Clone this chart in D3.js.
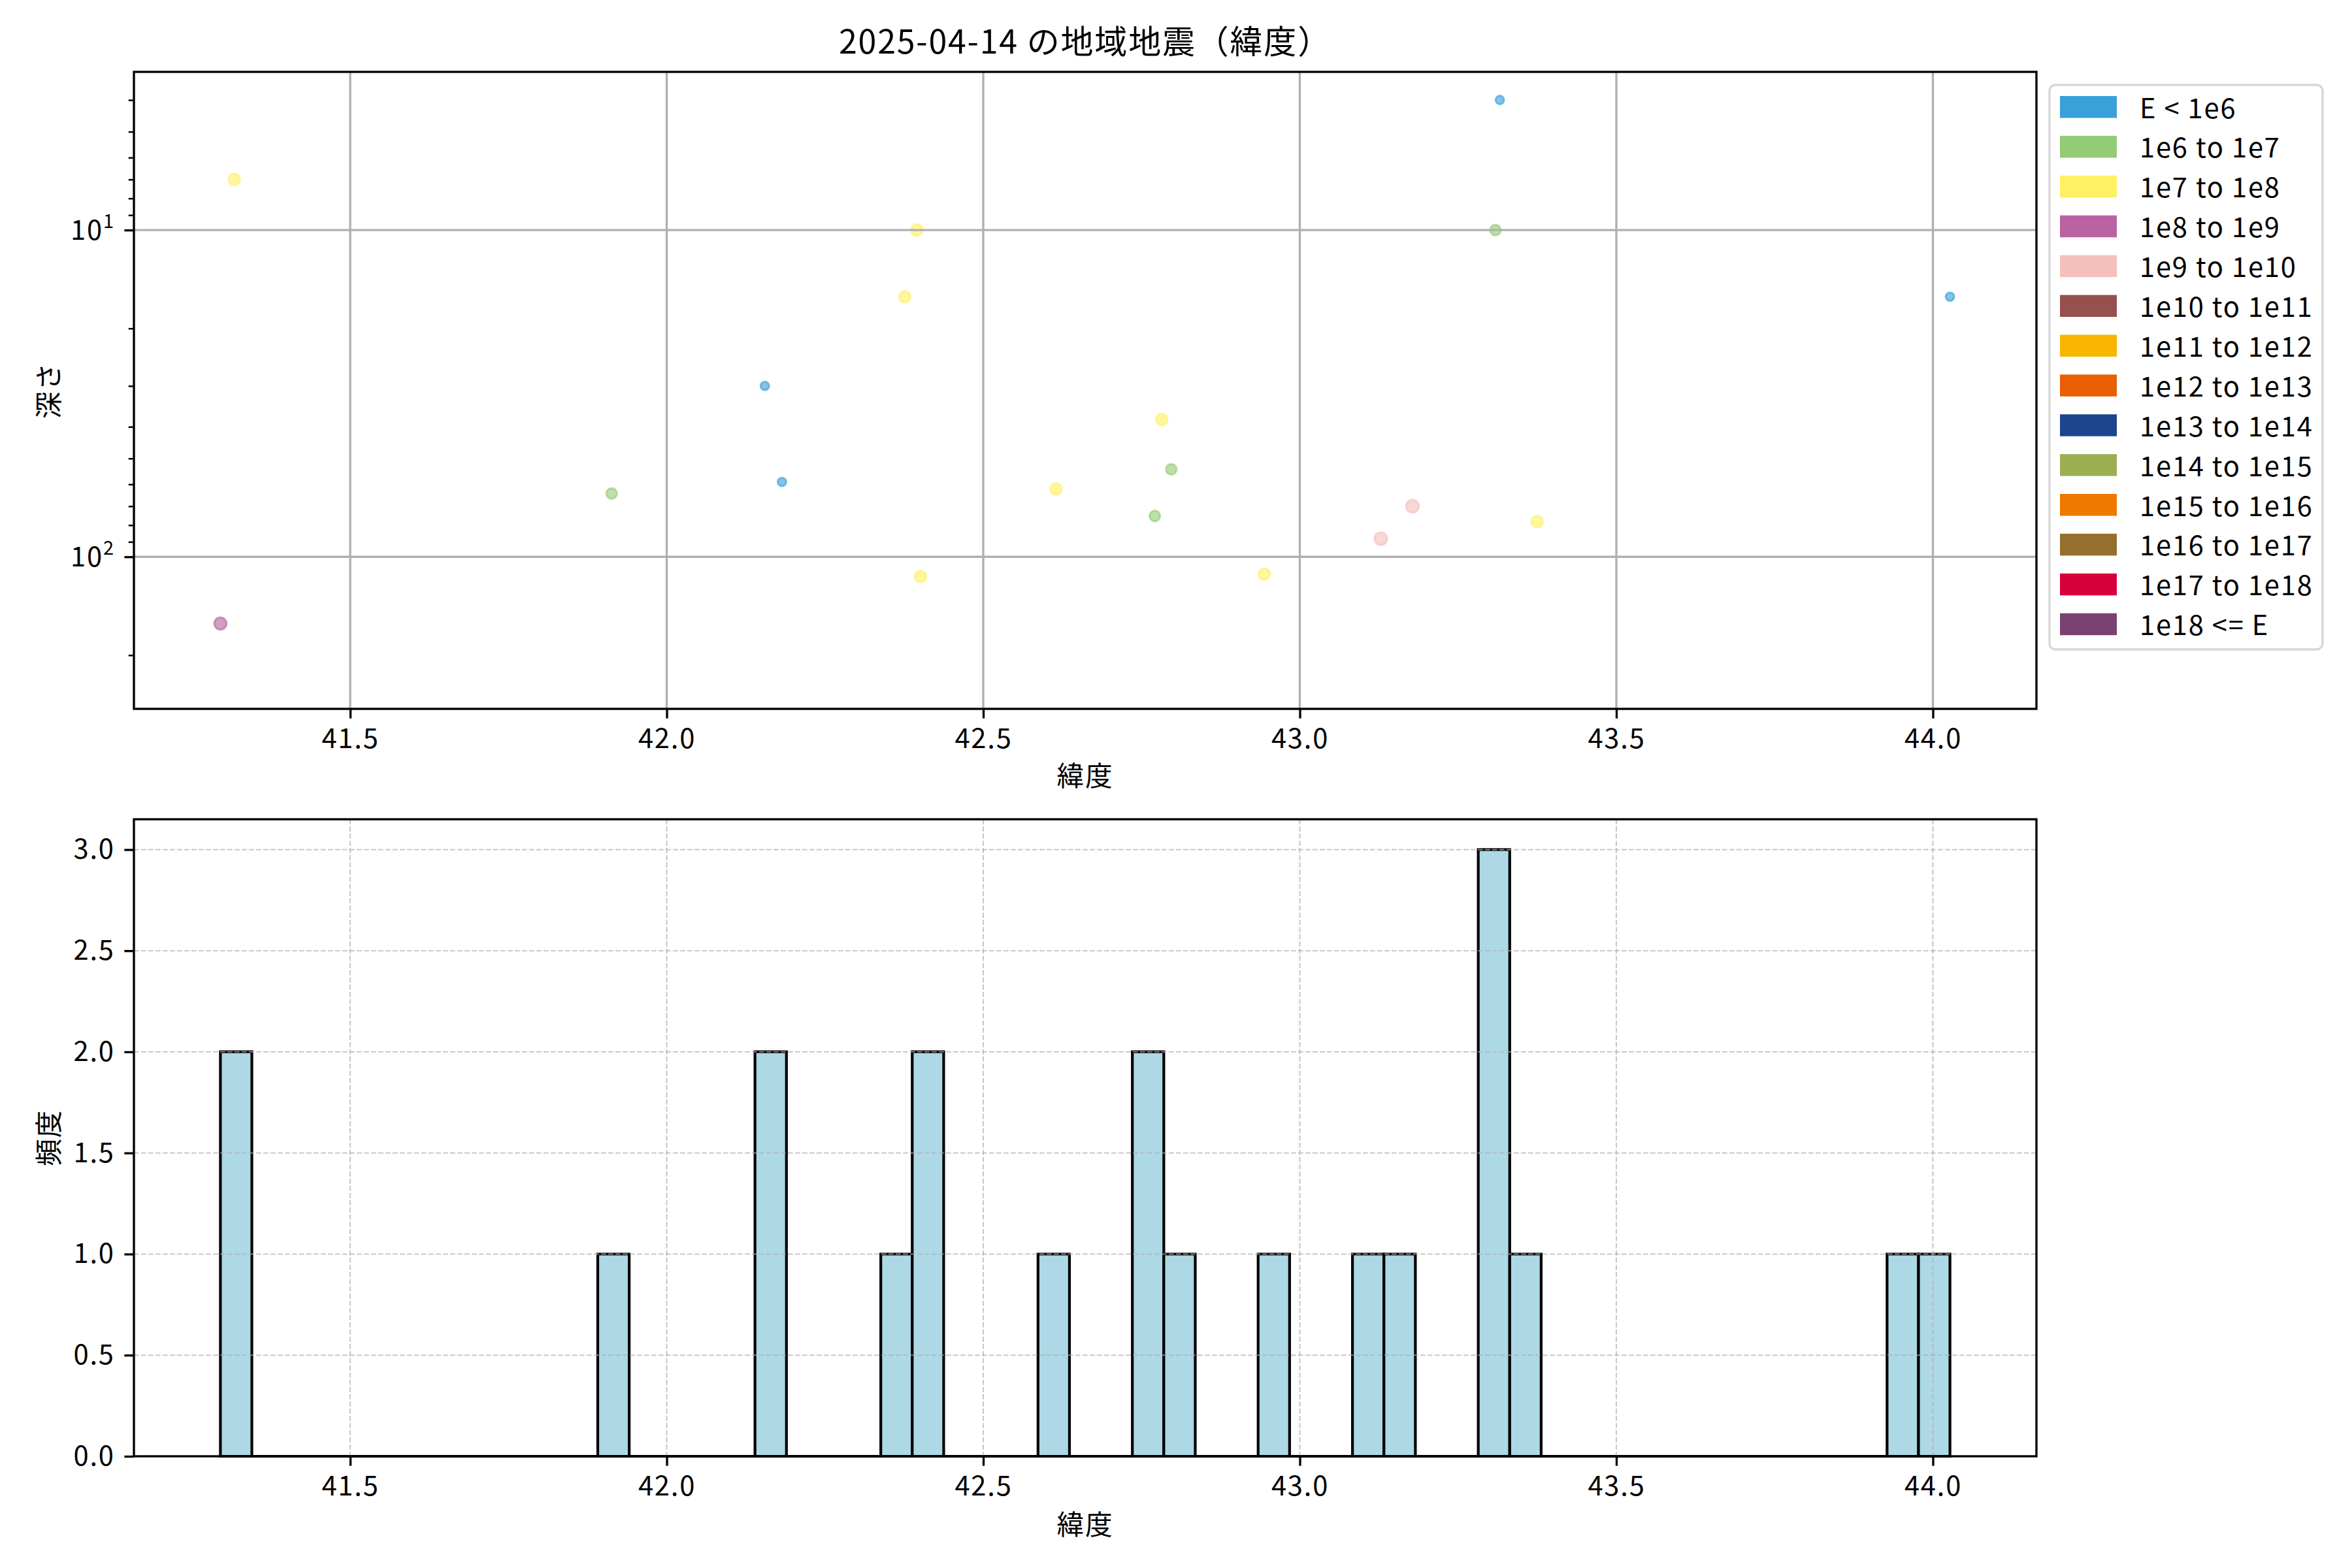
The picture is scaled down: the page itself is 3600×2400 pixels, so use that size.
<!DOCTYPE html>
<html>
<head>
<meta charset="utf-8">
<script src="https://cdn.jsdelivr.net/npm/d3@7"></script>
<style>
  html, body { margin: 0; padding: 0; background: #ffffff; }
  svg { display: block; }
  text { font-family: 'Noto Sans CJK JP', 'Noto Sans', sans-serif; fill: #000; letter-spacing: 1.8px; }
</style>
</head>
<body>
<svg id="chart" width="3600" height="2400"></svg>
<script>
// ---------------- DATA ----------------
const chartTitle = "2025-04-14 の地域地震（緯度）";
const xLabel = "緯度";
const depthLabel = "深さ";
const freqLabel = "頻度";

// latitude of every event (the histogram uses all of them)
const latitudes = [41.317, 41.295, 41.913, 42.155, 42.182, 42.376, 42.395, 42.401,
                   42.615, 42.782, 42.797, 42.771, 42.944, 43.128, 43.178, 43.309,
                   43.316, 43.375, 44.027, 43.320, 43.950];
// depth (km); null = not drawable on the log axis
const depths = [7, 160, 64, 30, 59, 16, 10, 115,
                62, 38, 54, 75, 113, 88, 70, 10,
                4.0, 78, 16, null, null];
// energy class index into classLabels
const energyClass = [2, 3, 1, 0, 0, 2, 2, 2,
                     2, 2, 1, 1, 2, 4, 4, 1,
                     0, 2, 0, 0, 0];

const classLabels = ["E < 1e6", "1e6 to 1e7", "1e7 to 1e8", "1e8 to 1e9", "1e9 to 1e10",
                     "1e10 to 1e11", "1e11 to 1e12", "1e12 to 1e13", "1e13 to 1e14",
                     "1e14 to 1e15", "1e15 to 1e16", "1e16 to 1e17", "1e17 to 1e18", "1e18 <= E"];
const classColors = ["#39a0da", "#94cb76", "#fff064", "#bb62a2", "#f5bfbb",
                     "#96504e", "#f7b500", "#e95f04", "#1b458c", "#9caf50",
                     "#ee7800", "#956f2d", "#d7003a", "#7a4171"];

const xTicks = [41.5, 42.0, 42.5, 43.0, 43.5, 44.0];
const depthLimits = [3.28, 292];
const depthMajorTicks = [10, 100];
const depthMajorExp = ["1", "2"];
const depthMinorTicks = [4, 5, 6, 7, 8, 9, 20, 30, 40, 50, 60, 70, 80, 90, 200];
const histYTicks = [0, 0.5, 1.0, 1.5, 2.0, 2.5, 3.0];
const binCount = 55;

// ---------------- LAYOUT ----------------
const svg = d3.select("#chart");
const FS = 41.7;            // 10pt @300dpi
const plotL = 205, plotR = 3117;
const topT = 110, topB = 1085;
const botT = 1254, botB = 2229;
const spineW = 3.33, tickLen = 14.6, tickW = 3.33;

const latMin = d3.min(latitudes), latMax = d3.max(latitudes);
const pad = (latMax - latMin) * 0.05;
const x = d3.scaleLinear().domain([latMin - pad, latMax + pad]).range([plotL, plotR]);

// ---------------- TOP: scatter ----------------
const yTop = d3.scaleLog().domain(depthLimits).range([topT, topB]);
const gTop = svg.append("g");

const points = latitudes.map((lat, i) => ({lat, depth: depths[i], cls: energyClass[i]}))
  .filter(d => d.depth != null);
const rScale = d3.scaleSqrt().domain([0, 4]).range([8.0, 11.3]);

gTop.append("g").selectAll("circle")
  .data(points.sort((a, b) => a.cls - b.cls))
  .join("circle")
  .attr("cx", d => x(d.lat))
  .attr("cy", d => yTop(d.depth))
  .attr("r", d => rScale(d.cls) - 1.5)
  .attr("fill", d => classColors[d.cls])
  .attr("fill-opacity", 0.62)
  .attr("stroke", d => classColors[d.cls])
  .attr("stroke-opacity", 0.62)
  .attr("stroke-width", 3);

// grid (solid), drawn above collections like matplotlib default
const gridTop = gTop.append("g");
gridTop.selectAll("line.vx").data(xTicks).join("line")
  .attr("x1", d => x(d)).attr("x2", d => x(d))
  .attr("y1", topT).attr("y2", topB)
  .attr("stroke", "#b0b0b0").attr("stroke-width", 3.33);
gridTop.selectAll("line.hy").data(depthMajorTicks).join("line")
  .attr("x1", plotL).attr("x2", plotR)
  .attr("y1", d => yTop(d)).attr("y2", d => yTop(d))
  .attr("stroke", "#b0b0b0").attr("stroke-width", 3.33);

// axes
function styleAxis(g, w) {
  g.select(".domain").remove();
  g.selectAll(".tick line").attr("stroke", "#000").attr("stroke-width", w);
  g.selectAll(".tick text").attr("font-size", FS).attr("font-family", "'Noto Sans CJK JP', 'Noto Sans', sans-serif");
}
const xAxisTop = gTop.append("g").attr("transform", `translate(0,${topB})`)
  .call(d3.axisBottom(x).tickValues(xTicks).tickFormat(d3.format(".1f")).tickSize(tickLen).tickPadding(16));
styleAxis(xAxisTop, tickW);

const yAxisTopMinor = gTop.append("g").attr("transform", `translate(${plotL},0)`)
  .call(d3.axisLeft(yTop).tickValues(depthMinorTicks).tickFormat(() => "").tickSize(8.3));
styleAxis(yAxisTopMinor, 2.5);
const yAxisTop = gTop.append("g").attr("transform", `translate(${plotL},0)`)
  .call(d3.axisLeft(yTop).tickValues(depthMajorTicks).tickFormat(() => "").tickSize(tickLen));
styleAxis(yAxisTop, tickW);
yAxisTop.selectAll(".tick text").remove();
depthMajorTicks.forEach((v, i) => {
  const t = gTop.append("text")
    .attr("x", plotL - tickLen - 14.6)
    .attr("y", yTop(v) + 15)
    .attr("text-anchor", "end")
    .attr("font-size", FS);
  t.append("tspan").text("10");
  t.append("tspan").attr("dy", -18).attr("font-size", 29).text(depthMajorExp[i]);
});

// spines
gTop.append("rect").attr("x", plotL).attr("y", topT)
  .attr("width", plotR - plotL).attr("height", topB - topT)
  .attr("fill", "none").attr("stroke", "#000").attr("stroke-width", spineW);

// labels
gTop.append("text").attr("x", (plotL + plotR) / 2).attr("y", 82)
  .attr("text-anchor", "middle").attr("font-size", 50).text(chartTitle);
gTop.append("text").attr("x", (plotL + plotR) / 2).attr("y", 1203)
  .attr("text-anchor", "middle").attr("font-size", FS).text(xLabel);
gTop.append("text").attr("transform", `translate(72,${(topT + topB) / 2}) rotate(-90)`)
  .attr("text-anchor", "middle").attr("dominant-baseline", "central")
  .attr("font-size", FS).text(depthLabel);

// legend
const lg = svg.append("g");
const lgX = 3137, lgY = 130, lgW = 418, lgH = 864, rowPitch = 60.9;
lg.append("rect").attr("x", lgX).attr("y", lgY).attr("width", lgW).attr("height", lgH)
  .attr("rx", 9).attr("ry", 9)
  .attr("fill", "#ffffff").attr("fill-opacity", 0.8)
  .attr("stroke", "#d6d6d6").attr("stroke-width", 3.3);
const rows = lg.selectAll("g.row").data(classLabels).join("g")
  .attr("transform", (d, i) => `translate(0,${147 + i * rowPitch})`);
rows.append("rect").attr("x", 3153).attr("y", 0).attr("width", 87).attr("height", 33.5)
  .attr("fill", (d, i) => classColors[i]);
rows.append("text").attr("x", 3275).attr("y", 15.5)
  .attr("dominant-baseline", "central").attr("font-size", FS).text(d => d);

// ---------------- BOTTOM: histogram ----------------
const gBot = svg.append("g");
const binW = (latMax - latMin) / binCount;
const thresholds = d3.range(1, binCount).map(i => latMin + i * binW);
const bins = d3.bin().domain([latMin, latMax]).thresholds(thresholds)(latitudes);
const yBot = d3.scaleLinear().domain([0, d3.max(bins, b => b.length) * 1.05]).range([botB, botT]);

gBot.append("g").selectAll("path").data(bins).join("path")
  .attr("d", b => {
    const x0 = x(b.x0), x1 = x(b.x1), y0 = yBot(0), y1 = yBot(b.length);
    return `M${x0},${y0}V${y1}H${x1}V${y0}Z`;
  })
  .attr("fill", "#add8e6").attr("stroke", "#000").attr("stroke-width", 4.2)
  .attr("stroke-linejoin", "miter");

const gridBot = gBot.append("g").attr("stroke", "#b0b0b0").attr("stroke-opacity", 0.7)
  .attr("stroke-width", 2.1).attr("stroke-dasharray", "7.7,3.3");
gridBot.selectAll("line.vx").data(xTicks).join("line")
  .attr("x1", d => x(d)).attr("x2", d => x(d)).attr("y1", botT).attr("y2", botB);
gridBot.selectAll("line.hy").data(histYTicks).join("line")
  .attr("x1", plotL).attr("x2", plotR).attr("y1", d => yBot(d)).attr("y2", d => yBot(d));

const xAxisBot = gBot.append("g").attr("transform", `translate(0,${botB})`)
  .call(d3.axisBottom(x).tickValues(xTicks).tickFormat(d3.format(".1f")).tickSize(tickLen).tickPadding(16));
styleAxis(xAxisBot, tickW);
const yAxisBot = gBot.append("g").attr("transform", `translate(${plotL},0)`)
  .call(d3.axisLeft(yBot).tickValues(histYTicks).tickFormat(d3.format(".1f")).tickSize(tickLen).tickPadding(14.6));
styleAxis(yAxisBot, tickW);

gBot.append("rect").attr("x", plotL).attr("y", botT)
  .attr("width", plotR - plotL).attr("height", botB - botT)
  .attr("fill", "none").attr("stroke", "#000").attr("stroke-width", spineW);

gBot.append("text").attr("x", (plotL + plotR) / 2).attr("y", 2349)
  .attr("text-anchor", "middle").attr("font-size", FS).text(xLabel);
gBot.append("text").attr("transform", `translate(72,${(botT + botB) / 2}) rotate(-90)`)
  .attr("text-anchor", "middle").attr("dominant-baseline", "central")
  .attr("font-size", FS).text(freqLabel);
</script>
</body>
</html>
